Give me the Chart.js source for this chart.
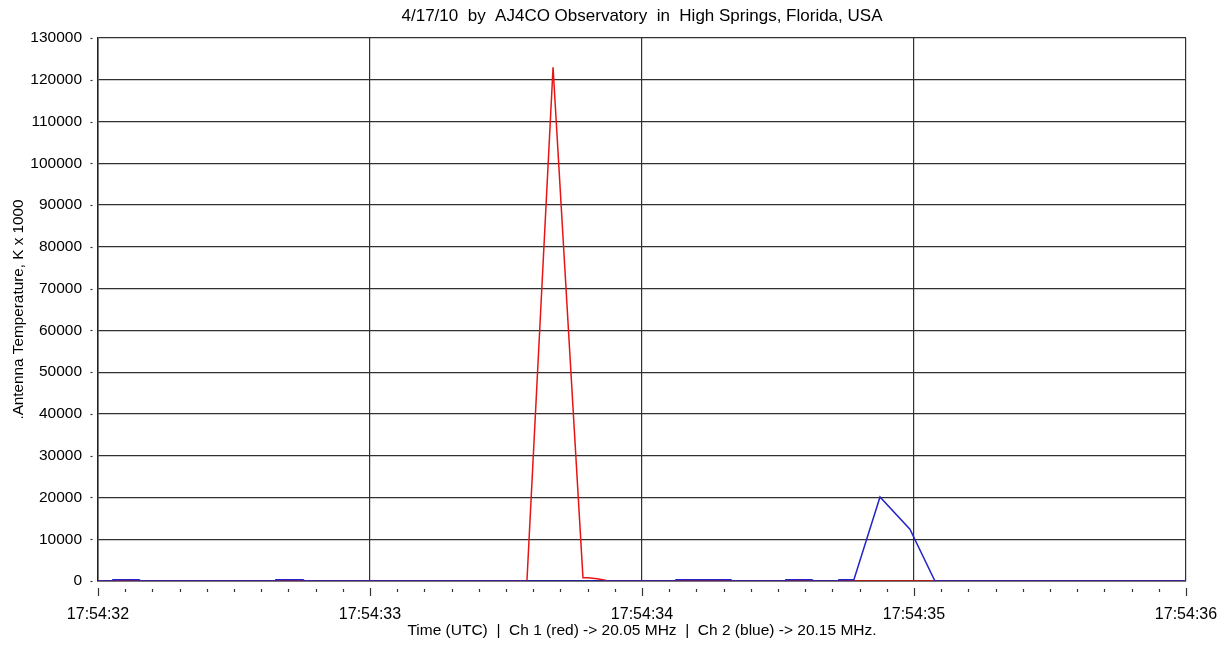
<!DOCTYPE html>
<html>
<head>
<meta charset="utf-8">
<script src="https://cdn.jsdelivr.net/npm/chart.js@4/dist/chart.umd.min.js"></script>
<style>
  html, body { margin: 0; padding: 0; background: #ffffff; }
  #wrap { width: 1225px; height: 648px; position: relative; }
</style>
</head>
<body>
<div id="wrap"><canvas id="c" width="1225" height="648"></canvas></div>
<script>
// ---- data (seconds after 17:54:32, antenna temperature K x 1000) ----
const chartTitle = '4/17/10  by  AJ4CO Observatory  in  High Springs, Florida, USA';
const xAxisTitle = 'Time (UTC)  |  Ch 1 (red) -> 20.05 MHz  |  Ch 2 (blue) -> 20.15 MHz.';
const yAxisTitle = '.Antenna Temperature, K x 1000';
const xTickLabels = ['17:54:32', '17:54:33', '17:54:34', '17:54:35', '17:54:36'];

const ch1Times  = [0.000, 1.577, 1.673, 1.783, 1.801, 1.835, 1.860, 1.875, 4.000];
const ch1Values = [0,     0,     123000, 800,  800,   550,   250,   0,     0];

const ch2Times  = [0.000, 0.052, 0.055, 0.151, 0.154, 0.651, 0.654, 0.754, 0.757,
                   2.122, 2.125, 2.327, 2.330, 2.526, 2.529, 2.625, 2.628,
                   2.721, 2.724, 2.779, 2.875, 2.985, 3.077, 4.000];
const ch2Values = [0,     0,     300,   300,   0,     0,     300,   300,   0,
                   0,     300,   300,   0,     0,     300,   300,   0,
                   0,     300,   300,   20100, 12400, 0,     0];

const yTicks = { min: 0, max: 130000, step: 10000 };
const minorStep = 0.1;

const toPoints = (t, v) => t.map((x, i) => ({ x: x, y: v[i] }));

const FONT = "'Liberation Sans', Arial, sans-serif";

const tickMarks = {
  id: 'tickMarks',
  afterDraw(chart) {
    const ctx = chart.ctx;
    const xs = chart.scales.x, ys = chart.scales.y;
    ctx.save();
    ctx.strokeStyle = '#333333';
    ctx.lineWidth = 1.2;
    const base = xs.top;
    for (let k = 0; k <= Math.round((xs.max - xs.min) / minorStep); k++) {
      const v = xs.min + k * minorStep;
      const px = Math.round(xs.getPixelForValue(v)) + 0.5;
      const major = k % 10 === 0;
      ctx.beginPath();
      ctx.moveTo(px, base + (major ? 7 : 8));
      ctx.lineTo(px, base + (major ? 15 : 11));
      ctx.stroke();
    }
    for (let v = yTicks.min; v <= yTicks.max; v += yTicks.step) {
      const py = Math.round(ys.getPixelForValue(v)) + 0.5;
      ctx.beginPath();
      ctx.moveTo(ys.right - 7.5, py);
      ctx.lineTo(ys.right - 5.5, py);
      ctx.stroke();
    }
    ctx.restore();
  }
};

new Chart(document.getElementById('c'), {
  type: 'line',
  data: {
    datasets: [
      {
        label: 'Ch 2 (blue)',
        data: toPoints(ch2Times, ch2Values),
        borderColor: '#2323c8',
        borderWidth: 1.5,
        pointRadius: 0,
        tension: 0,
        fill: false,
        order: 0
      },
      {
        label: 'Ch 1 (red)',
        data: toPoints(ch1Times, ch1Values),
        borderColor: '#e81414',
        borderWidth: 1.5,
        pointRadius: 0,
        tension: 0,
        fill: false,
        order: 1
      }
    ]
  },
  options: {
    responsive: false,
    animation: false,
    events: [],
    layout: { padding: { left: 0, right: 39, top: 0, bottom: 0 } },
    plugins: {
      legend: { display: false },
      tooltip: { enabled: false },
      title: {
        display: true,
        fullSize: false,
        text: chartTitle,
        color: '#000000',
        font: { family: FONT, size: 17, weight: 'normal', lineHeight: 1.2 },
        padding: { top: 6, bottom: 11.6 }
      }
    },
    scales: {
      x: {
        type: 'linear',
        min: 0,
        max: 4,
        afterFit(scale) { scale.height = 67; },
        ticks: {
          stepSize: 1,
          autoSkip: false,
          maxRotation: 0,
          color: '#000000',
          padding: 4,
          font: { family: FONT, size: 16 },
          callback: (v) => {
            const i = Math.round(v);
            return Math.abs(v - i) < 1e-6 ? xTickLabels[i] : '';
          }
        },
        grid: { color: '#303030', lineWidth: 1.2, drawTicks: true, tickLength: 20, tickColor: 'rgba(0,0,0,0)' },
        border: { display: true, color: '#202020', width: 1.5 },
        title: {
          display: true,
          text: xAxisTitle,
          color: '#000000',
          font: { family: FONT, size: 15.5 },
          padding: { top: 0, bottom: 8 }
        }
      },
      y: {
        min: yTicks.min,
        max: yTicks.max,
        afterFit(scale) { scale.width = 98; },
        ticks: {
          stepSize: yTicks.step,
          color: '#000000',
          padding: 16,
          font: { family: FONT, size: 15.5 },
          callback: (v) => String(v)
        },
        grid: { color: '#303030', lineWidth: 1.2, drawTicks: false },
        border: { display: true, color: '#202020', width: 1.5 },
        title: {
          display: true,
          text: yAxisTitle,
          color: '#000000',
          font: { family: FONT, size: 15.3 },
          padding: { top: 9.5, bottom: 0 }
        }
      }
    }
  },
  plugins: [tickMarks]
});
</script>
</body>
</html>
